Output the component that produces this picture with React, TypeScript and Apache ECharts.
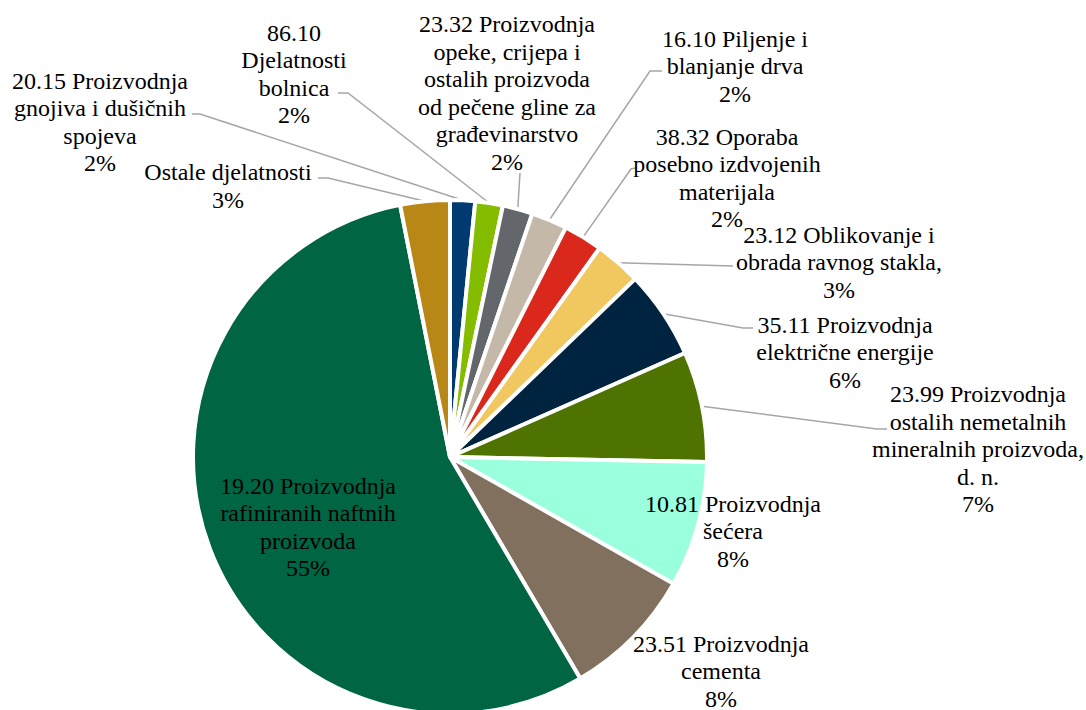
import React, { useEffect, useRef } from "react";
import * as echarts from "echarts";

// Categories (as wrapped in the reference labels)
const categories: string[] = [
  "20.15 Proizvodnja\ngnojiva i dušičnih\nspojeva",
  "86.10\nDjelatnosti\nbolnica",
  "23.32 Proizvodnja\nopeke, crijepa i\nostalih proizvoda\nod pečene gline za\ngrađevinarstvo",
  "16.10 Piljenje i\nblanjanje drva",
  "38.32 Oporaba\nposebno izdvojenih\nmaterijala",
  "23.12 Oblikovanje i\nobrada ravnog stakla,",
  "35.11 Proizvodnja\nelektrične energije",
  "23.99 Proizvodnja\nostalih nemetalnih\nmineralnih proizvoda,\nd. n.",
  "10.81 Proizvodnja\nšećera",
  "23.51 Proizvodnja\ncementa",
  "19.20 Proizvodnja\nrafiniranih naftnih\nproizvoda",
  "Ostale djelatnosti",
];

// Shares (%)
const shares: number[] = [1.57, 1.73, 1.89, 2.25, 2.45, 2.92, 5.56, 6.94, 7.9, 8.33, 55.35, 3.11];

const colors: string[] = [
  "#003A70",
  "#84BD00",
  "#63666A",
  "#C4B8A8",
  "#DA291C",
  "#F1C85F",
  "#00243F",
  "#4F7300",
  "#99FFDD",
  "#82705E",
  "#006543",
  "#B88716",
];

// Layout: label block centres and leader-line bends/ends (pixels)
const CX = 450;
const CY = 457;
const R = 257;
const FONT = "Liberation Serif";
const labelCenters: number[][] = [
  [100, 122],
  [294, 74],
  [507, 93],
  [735, 66],
  [727, 178],
  [839, 262],
  [845, 352],
  [978, 449],
  [733, 531],
  [721, 671],
  [308, 527],
  [228, 186],
];
const leaders: (number[][] | null)[] = [
  [[200, 114], [192, 114]],
  [[348, 93], [338, 93]],
  [[520, 173], [520, 173]],
  [[650, 71], [662, 71]],
  [[631, 169], [635, 168]],
  [[733, 266], [733, 266]],
  [[743, 328], [753, 328]],
  [[877, 429], [887, 429]],
  null,
  null,
  null,
  [[328, 178], [318, 178]],
];

function slicePoint(i: number): number[] {
  const total = shares.reduce((a, b) => a + b, 0);
  let before = 0;
  for (let k = 0; k < i; k++) before += shares[k];
  const mid = ((before + shares[i] / 2) / total) * Math.PI * 2;
  return [CX + R * Math.sin(mid), CY - R * Math.cos(mid)];
}

export default function App() {
  const ref = useRef<HTMLDivElement>(null);
  useEffect(() => {
    document.body.style.margin = "0";
    if (!ref.current) return;
    const chart = echarts.init(ref.current, undefined, { renderer: "svg" });
    const data = categories.map((name, i) => ({
      name,
      value: shares[i],
      itemStyle: { color: colors[i] },
      labelLine: { show: leaders[i] !== null },
    }));
    chart.setOption({
      animation: false,
      backgroundColor: "#ffffff",
      textStyle: { fontFamily: FONT },
      series: [
        {
          type: "pie",
          center: [CX, CY],
          radius: R,
          startAngle: 90,
          clockwise: true,
          avoidLabelOverlap: false,
          emphasis: { disabled: true },
          itemStyle: { borderColor: "#ffffff", borderWidth: 4 },
          label: {
            show: true,
            position: "outside",
            color: "#000000",
            fontFamily: FONT,
            fontSize: 24,
            lineHeight: 27.5,
            align: "center",
            formatter: (p: any) => `${p.name}\n${Math.round(p.percent)}%`,
          },
          labelLine: {
            show: true,
            lineStyle: { color: "#A6A6A6", width: 1.5 },
          },
          labelLayout: (params: any) => {
            const i = params.dataIndex;
            const c = labelCenters[i];
            const res: any = { x: c[0], y: c[1], align: "center", verticalAlign: "middle" };
            const l = leaders[i];
            if (l) {
              const start =
                params.labelLinePoints && params.labelLinePoints[0]
                  ? params.labelLinePoints[0]
                  : slicePoint(i);
              res.labelLinePoints = [start, l[0], l[1]];
            }
            return res;
          },
          data,
        },
      ],
    });
    return () => chart.dispose();
  }, []);
  return <div ref={ref} style={{ width: 1086, height: 710 }} />;
}
